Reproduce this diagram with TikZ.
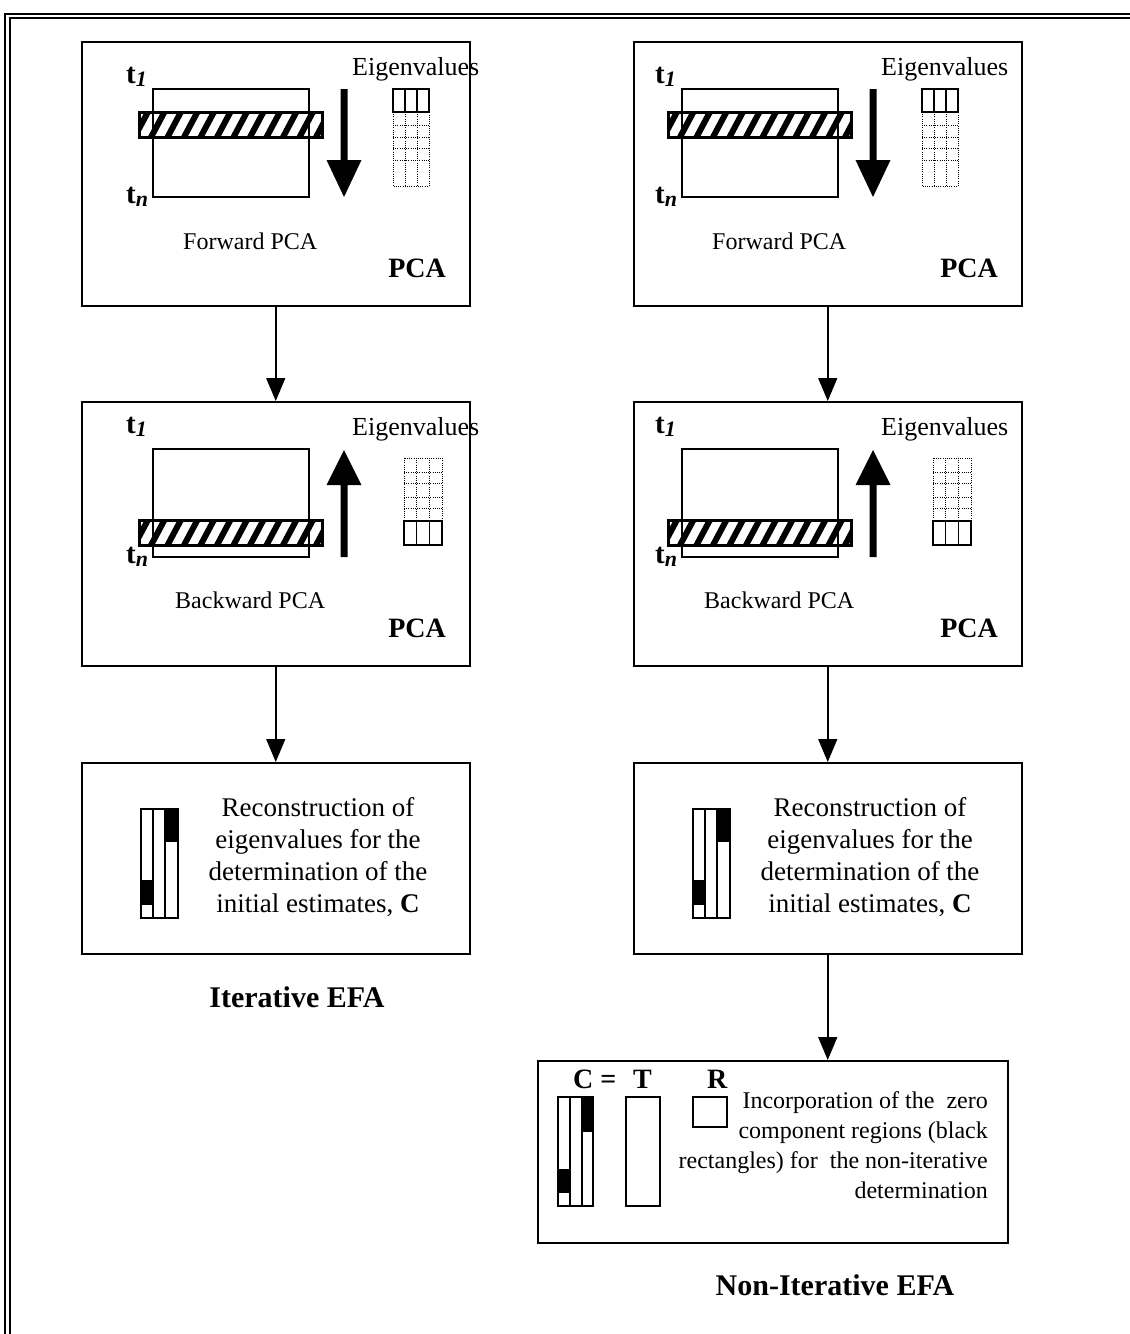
\documentclass[tikz,border=0pt]{standalone}
\usepackage{fontspec}
\setmainfont{Liberation Serif}
\usetikzlibrary{arrows.meta}

% hatched sliding window: #1 x-left, #2 y-top, #3 x-right, #4 y-bottom
\newcommand\hatchbar[4]{%
  \begin{scope}
    \clip (#1,#2) rectangle (#3,#4);
    \foreach \k in {0,...,12}{\draw[line width=6pt] ({#1-6+\k*16.5},{#4+3}) -- ++(16,-30);}
  \end{scope}
  \draw[line width=3pt] (#1,#2) rectangle (#3,#4);}

% time labels t_1 / t_n
\newcommand\tlabel[1]{{\fontsize{29}{29}\selectfont\bfseries t\raisebox{-3pt}{\fontsize{22}{22}\selectfont\bfseries\itshape #1}}}

% forward PCA panel contents (local frame, y measured downward)
\newcommand\forwardcontent[1]{%
  \draw[datarect] (49,48) rectangle (205,156);
  \hatchbar{35}{71}{218}{96}
  \node[tlab] (#1t1) at (22,42) {\tlabel{1}};
  \node[tlab] (#1tn) at (22,162) {\tlabel{n}};
  \fill (236.5,48) -- (243.5,48) -- (243.5,119) -- (257.5,119) -- (240,156)
        -- (222.5,119) -- (236.5,119) -- cycle;
  \node[eiglab] (#1eig) at (248,34) {Eigenvalues};
  \draw[dotcell] (289,71) rectangle (325,145);
  \draw[dotcell] (301,71) -- (301,145) (313,71) -- (313,145);
  \foreach \yy in {84,96,107,119}{\draw[dotcell] (289,\yy) -- (325,\yy);}
  \draw[datarect] (289,48) rectangle (325,71) (301,48) -- (301,71) (313,48) -- (313,71);
  \node[steplab] (#1name) at (79,208) {Forward PCA};}

% backward PCA panel contents
\newcommand\backwardcontent[1]{%
  \draw[datarect] (49,48) rectangle (205,156);
  \hatchbar{35}{119}{218}{144}
  \node[tlab] (#1t1) at (22,32) {\tlabel{1}};
  \node[tlab] (#1tn) at (22,162) {\tlabel{n}};
  \fill (236.5,156) -- (243.5,156) -- (243.5,84) -- (257.5,84) -- (240,49)
        -- (222.5,84) -- (236.5,84) -- cycle;
  \node[eiglab] (#1eig) at (248,34) {Eigenvalues};
  \draw[dotcell] (300,57) rectangle (338,120);
  \draw[dotcell] (312.7,57) -- (312.7,120) (325.3,57) -- (325.3,120);
  \foreach \yy in {71,82,96,107}{\draw[dotcell] (300,\yy) -- (338,\yy);}
  \draw[datarect] (300,120) rectangle (338,144) (312.7,120) -- (312.7,144) (325.3,120) -- (325.3,144);
  \node[steplab] (#1name) at (71,207) {Backward PCA};}

% reconstructed concentration profiles with zero regions
\newcommand\profilebars{%
  \fill (60,118) rectangle (72,143);
  \fill (84,47) rectangle (97,80);
  \draw[barline] (60,47) rectangle (97,156) (72,47) -- (72,156) (84,47) -- (84,156);}

% description of the reconstruction step (anchored at the last line's baseline)
\newcommand\recontext[1]{%
  \node[recon] (#1txt) at (237,150)
    {Reconstruction of\\eigenvalues for the\\determination of the\\initial estimates, \textbf{C}};}

\begin{document}
\begin{tikzpicture}[x=1pt,y=-1pt,
  panel/.style={draw,line width=1.5pt,anchor=north west,inner sep=0pt,minimum width=388pt},
  flow/.style={line width=1.5pt,-{Triangle[length=23pt,width=19pt]}},
  datarect/.style={line width=1.1pt},
  barline/.style={line width=1.5pt},
  dotcell/.style={line width=1pt,dash pattern=on 1pt off 1.2pt},
  tlab/.style={anchor=base west,inner sep=0pt},
  eiglab/.style={anchor=base west,inner sep=0pt,font=\fontsize{26}{26}\selectfont},
  steplab/.style={anchor=base west,inner sep=0pt,font=\fontsize{24}{24}\selectfont},
  pcalab/.style={anchor=base east,inner sep=0pt,font=\fontsize{28}{28}\selectfont\bfseries},
  recon/.style={anchor=base,inner sep=0pt,align=center,font=\fontsize{27}{31.7}\selectfont},
  title/.style={anchor=base,inner sep=0pt,font=\fontsize{30}{30}\selectfont\bfseries}]
\useasboundingbox (0,0) rectangle (1130,1334);

% double page frame
\draw[line width=2.4pt] (5.2,1334) -- (5.2,13.8) -- (1130,13.8);
\draw[line width=1.8pt] (10.2,1334) -- (10.2,18.3) -- (1130,18.3);

% boxes
\node[panel,minimum height=264pt] (L1) at (81,41) {};
\node[panel,minimum height=264pt] (L2) at (81,401) {};
\node[panel,minimum height=191pt] (L3) at (81,762) {};
\node[panel,minimum height=264pt] (R1) at (633,41) {};
\node[panel,minimum height=264pt] (R2) at (633,401) {};
\node[panel,minimum height=191pt] (R3) at (633,762) {};
\node[panel,minimum height=182pt,minimum width=470pt] (R4) at (537,1060) {};

% connectors
\draw[flow] (L1.south) -- (L2.north);
\draw[flow] (L2.south) -- (L3.north);
\draw[flow] (R1.south) -- (R2.north);
\draw[flow] (R2.south) -- (R3.north);
\draw[flow] (R3.south) -- (R3.south |- R4.north);

% forward PCA
\begin{scope}[shift={(104,41)}]\forwardcontent{lf}\end{scope}
\begin{scope}[shift={(633,41)}]\forwardcontent{rf}\end{scope}
\node[pcalab] (lfpca) at (446,277) {PCA};
\node[pcalab] (rfpca) at (998,277) {PCA};

% backward PCA
\begin{scope}[shift={(104,401)}]\backwardcontent{lb}\end{scope}
\begin{scope}[shift={(633,401)}]\backwardcontent{rb}\end{scope}
\node[pcalab] (lbpca) at (446,637) {PCA};
\node[pcalab] (rbpca) at (998,637) {PCA};

% reconstruction
\begin{scope}[shift={(81,762)}]\profilebars\recontext{lr}\end{scope}
\begin{scope}[shift={(633,762)}]\profilebars\recontext{rr}\end{scope}

% non-iterative step: C = T R
\node[anchor=base west,inner sep=0pt,font=\fontsize{28}{28}\selectfont\bfseries] (ceq) at (573,1088) {C =};
\node[anchor=base west,inner sep=0pt,font=\fontsize{28}{28}\selectfont\bfseries] (tsym) at (633,1088) {T};
\node[anchor=base west,inner sep=0pt,font=\fontsize{28}{28}\selectfont\bfseries] (rsym) at (707,1088) {R};
\fill (558,1169) rectangle (570,1193);
\fill (582,1097) rectangle (593,1132);
\draw[barline] (558,1097) rectangle (593,1206) (570,1097) -- (570,1206) (582,1097) -- (582,1206);
\draw[barline] (626,1097) rectangle (660,1206);
\draw[barline] (693,1097) rectangle (727,1127);
\node[anchor=base east,inner sep=0pt,align=right,font=\fontsize{24}{30}\selectfont] (inc) at (988,1198)
  {Incorporation of the\ \ zero\\component regions (black\\rectangles) for\ \ the non-iterative\\determination};

% titles
\node[title] (iter) at (297,1007) {Iterative EFA};
\node[title] (noniter) at (835,1295) {Non-Iterative EFA};
\end{tikzpicture}
\end{document}
